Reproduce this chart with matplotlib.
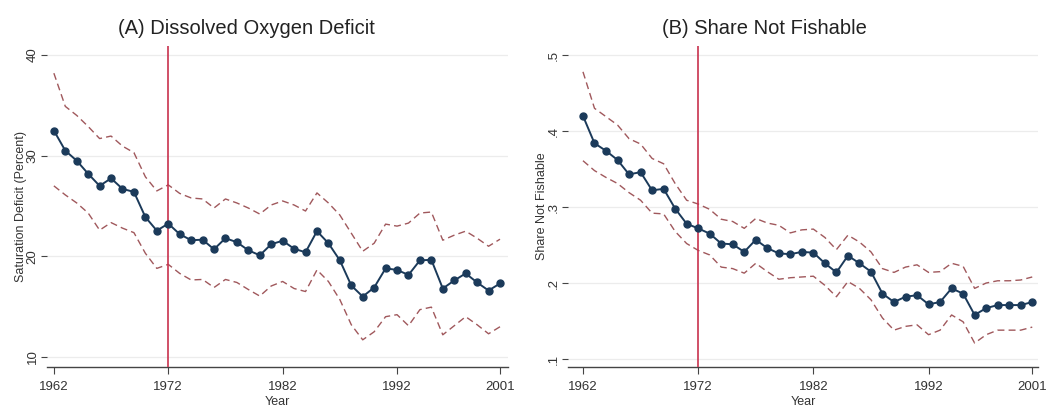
import matplotlib
matplotlib.use("Agg")
import matplotlib.pyplot as plt

plt.rcParams['font.family'] = ['Liberation Sans', 'DejaVu Sans']

years = list(range(1962, 2002))

do_est = [32.5, 30.5, 29.5, 28.2, 27.0, 27.75, 26.7, 26.4, 23.9, 22.55,
          23.25, 22.2, 21.6, 21.65, 20.7, 21.8, 21.4, 20.6, 20.1, 21.2,
          21.55, 20.75, 20.4, 22.5, 21.3, 19.6, 17.1, 16.0, 16.9, 18.8,
          18.65, 18.15, 19.6, 19.65, 16.8, 17.6, 18.3, 17.4, 16.6, 17.3]
do_hi = [38.2, 34.9, 34.0, 32.9, 31.7, 31.95, 30.95, 30.3, 27.9, 26.5,
         27.1, 26.25, 25.8, 25.7, 24.8, 25.7, 25.3, 24.8, 24.2, 25.1,
         25.5, 25.1, 24.5, 26.3, 25.3, 24.1, 22.3, 20.5, 21.3, 23.2,
         23.0, 23.3, 24.3, 24.4, 21.6, 22.1, 22.5, 21.8, 21.0, 21.7]
do_lo = [27.0, 26.1, 25.3, 24.3, 22.6, 23.35, 22.8, 22.35, 20.3, 18.8,
         19.2, 18.3, 17.65, 17.7, 16.9, 17.7, 17.4, 16.7, 16.05, 17.05,
         17.5, 16.8, 16.5, 18.65, 17.5, 15.7, 13.2, 11.7, 12.5, 14.0,
         14.2, 13.1, 14.7, 14.95, 12.2, 13.1, 14.0, 13.2, 12.3, 13.0]

nf_est = [0.420, 0.384, 0.374, 0.362, 0.343, 0.346, 0.322, 0.324, 0.298, 0.278,
          0.272, 0.265, 0.252, 0.251, 0.241, 0.257, 0.246, 0.239, 0.238, 0.241,
          0.240, 0.226, 0.214, 0.236, 0.226, 0.215, 0.186, 0.175, 0.182, 0.184,
          0.172, 0.175, 0.193, 0.186, 0.158, 0.167, 0.171, 0.171, 0.171, 0.175]
nf_hi = [0.478, 0.430, 0.419, 0.408, 0.390, 0.383, 0.364, 0.357, 0.331, 0.309,
         0.304, 0.297, 0.284, 0.281, 0.272, 0.285, 0.279, 0.276, 0.266, 0.270,
         0.271, 0.260, 0.244, 0.263, 0.254, 0.241, 0.219, 0.214, 0.221, 0.224,
         0.214, 0.215, 0.226, 0.222, 0.193, 0.200, 0.203, 0.203, 0.204, 0.208]
nf_lo = [0.361, 0.348, 0.339, 0.331, 0.319, 0.309, 0.292, 0.291, 0.268, 0.252,
         0.243, 0.237, 0.221, 0.219, 0.213, 0.226, 0.215, 0.205, 0.207, 0.208,
         0.209, 0.197, 0.182, 0.202, 0.193, 0.178, 0.154, 0.138, 0.143, 0.145,
         0.132, 0.138, 0.158, 0.149, 0.121, 0.132, 0.138, 0.138, 0.138, 0.142]

xticks = [1962, 1972, 1982, 1992, 2001]
event_year = 1972

titles = ["(A) Dissolved Oxygen Deficit", "(B) Share Not Fishable"]
ylabels = ["Saturation Deficit (Percent)", "Share Not Fishable"]
yticks_a = [10, 20, 30, 40]
ytl_a = ["10", "20", "30", "40"]
yticks_b = [0.1, 0.2, 0.3, 0.4, 0.5]
ytl_b = [".1", ".2", ".3", ".4", ".5"]

W, H = 1050, 412
fig = plt.figure(figsize=(W / 100, H / 100), dpi=100)

def px_axes(l, t, r, b):
    return fig.add_axes([l / W, 1 - b / H, (r - l) / W, (b - t) / H])

ax1 = px_axes(47, 46, 508, 367)
ax2 = px_axes(568, 46, 1038, 367)

line_c = '#1b3a5a'
ci_c = '#a0585c'
vline_c = '#c8324e'

panels = [
    (ax1, do_est, do_hi, do_lo, yticks_a, ytl_a, (9.0, 40.9), (1961.4, 2001.7), 0.432),
    (ax2, nf_est, nf_hi, nf_lo, yticks_b, ytl_b, (0.0895, 0.512), (1960.7, 2001.5), 0.419),
]

for i, (ax, est, hi, lo, yt, ytl, ylim, xlim, tx) in enumerate(panels):
    for y in yt:
        ax.axhline(y, color='#ececec', lw=0.9, zorder=0)
    ax.plot(years, hi, color=ci_c, lw=1.0, ls=(0, (5, 3)), zorder=2)
    ax.plot(years, lo, color=ci_c, lw=1.0, ls=(0, (5, 3)), zorder=2)
    ax.axvline(event_year, color=vline_c, lw=1.2, zorder=3)
    ax.plot(years, est, color=line_c, lw=1.4, marker='o', ms=5.0,
            markerfacecolor=line_c, markeredgecolor=line_c, zorder=4)
    ax.set_ylim(*ylim)
    ax.set_xlim(*xlim)
    ax.set_xticks(xticks)
    ax.set_xticklabels([str(x) for x in xticks], fontsize=9.5, color='#333333')
    ax.set_yticks(yt)
    ax.set_yticklabels(ytl, fontsize=9.5, rotation=90, va='center', color='#333333')
    ax.tick_params(axis='x', length=5, width=0.8, color='#444444', pad=5)
    ax.tick_params(axis='y', length=4, width=0.8, color='#444444', pad=2)
    for s in ['top', 'right', 'left']:
        ax.spines[s].set_visible(False)
    ax.spines['bottom'].set_color('#444444')
    ax.spines['bottom'].set_linewidth(1.0)
    ax.set_title(titles[i], fontsize=14.5, color='#222222', pad=9, x=tx)
    ax.set_xlabel("Year", fontsize=9, color='#333333', labelpad=2)
    ax.set_ylabel(ylabels[i], fontsize=9, color='#333333', labelpad=0)

fig.savefig("out.png", dpi=100, facecolor='white')
